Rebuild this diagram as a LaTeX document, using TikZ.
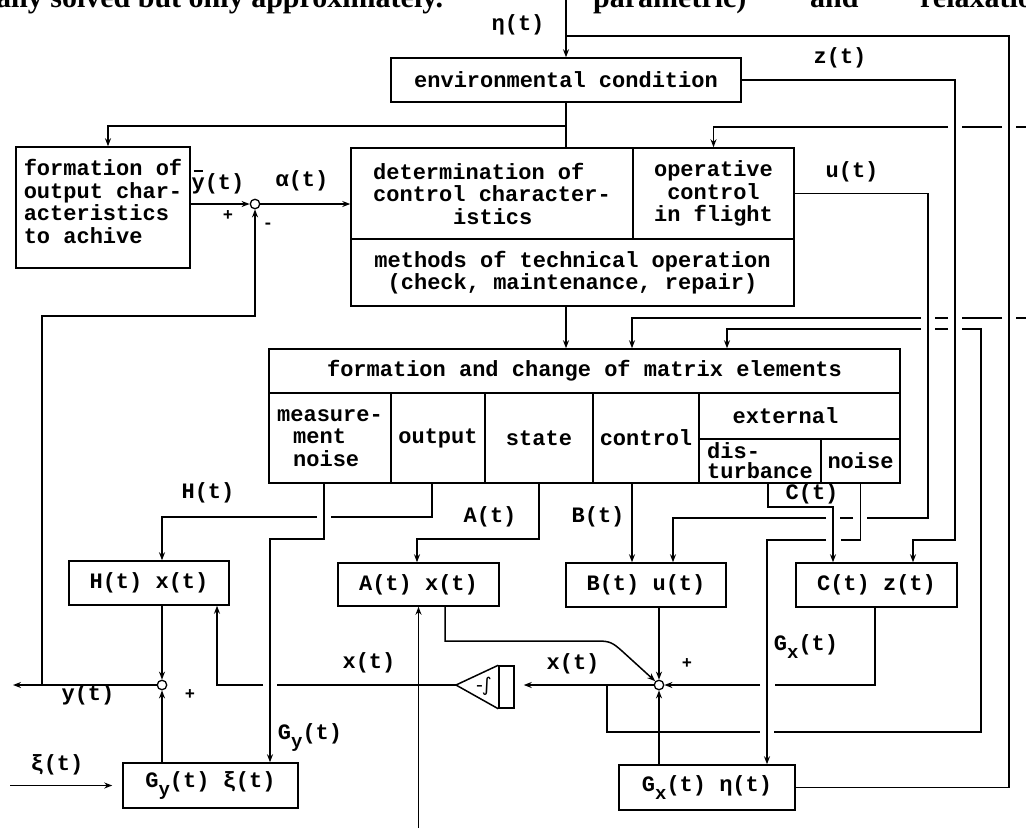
\documentclass[tikz,border=0pt]{standalone}
\usepackage{fontspec}
\newfontfamily\dmono{Liberation Mono}
\newfontfamily\dserif{Liberation Serif}
\newfontfamily\dsans{DejaVu Sans}
\usetikzlibrary{arrows.meta}
\newcommand\dtxt{\dmono\bfseries\fontsize{22}{22.5}\selectfont}
\newcommand\lowsub[1]{\raisebox{-8pt}{\fontsize{19}{19}\selectfont #1}}
\tikzset{
  ln/.style={line width=1.5pt},
  arr/.style={line width=1.5pt, -{Stealth[length=8pt,width=6pt]}},
  bx/.style={draw, line width=1.5pt, inner sep=0pt, font=\dtxt, align=center},
  lbl/.style={font=\dtxt, inner sep=0pt},
  sgn/.style={font=\dmono\bfseries\fontsize{17}{17}\selectfont, inner sep=0pt},
  sm/.style={draw, line width=1.3pt, circle, minimum size=9.5pt, inner sep=0pt},
  top/.style={font=\dserif\bfseries\fontsize{30}{30}\selectfont, inner sep=0pt, anchor=base west},
}
\begin{document}
\begin{tikzpicture}[x=1pt,y=-1pt]
\clip (0,0) rectangle (1026,839);
\useasboundingbox (0,0) rectangle (1026,839);
\fill[white] (0,0) rectangle (1026,839);

% page text cut at the top
\node[top] (t1) at (-4,7) {ally solved but only approximately.};
\node[top] (t2) at (593,7) {parametric)};
\node[top] (t3) at (810,7) {and};
\node[top] (t4) at (920,7) {relaxatio};

% boxes
\node[bx, minimum width=350pt, minimum height=44pt] (env) at (566,80) {environmental condition};
\node[bx, minimum width=174pt, minimum height=121pt, align=left] (form) at (103,207.5)
  {formation of\\output char-\\acteristics\\to achive\\[-10pt]};
\node[bx, minimum width=282pt, minimum height=91pt, align=left] (det) at (492,193.5)
  {determination of\\control character-\\\hspace*{80pt}istics};
\node[bx, minimum width=161pt, minimum height=91pt] (op) at (713.5,193.5) {operative\\control\\in flight};
\node[bx, minimum width=443pt, minimum height=67pt] (meth) at (572.5,272.5)
  {methods of technical operation\\(check, maintenance, repair)};

\node[bx, minimum width=631pt, minimum height=44pt] (hdr) at (584.5,371) {formation and change of matrix elements};
\node[bx, minimum width=122pt, minimum height=90pt, align=left] (mn) at (330,438)
  {measure-\\\hspace*{16pt}ment\\\hspace*{16pt}noise};
\node[bx, minimum width=94pt, minimum height=90pt] (out) at (438,438) {output};
\node[bx, minimum width=108pt, minimum height=90pt] (st) at (539,438) {state};
\node[bx, minimum width=106pt, minimum height=90pt] (ctl) at (646,438) {control};
\node[bx, minimum width=201pt, minimum height=46pt] (ext) at (799.5,416) {external\hspace*{28pt}};
\node[bx, minimum width=122pt, minimum height=44pt, align=left,
      font=\dmono\bfseries\fontsize{22}{20}\selectfont] (dist) at (760,461) {dis-\\turbance};
\node[bx, minimum width=79pt, minimum height=44pt] (nz) at (860.5,461) {noise};

\node[bx, minimum width=160pt, minimum height=44pt] (Hx) at (149,583) {H(t) x(t)};
\node[bx, minimum width=161pt, minimum height=43pt] (Ax) at (418.5,584.5) {A(t) x(t)};
\node[bx, minimum width=160pt, minimum height=44pt] (Bu) at (646,585) {B(t) u(t)};
\node[bx, minimum width=161pt, minimum height=44pt] (Cz) at (876.5,585) {C(t) z(t)};
\node[bx, minimum width=175pt, minimum height=45pt] (Gy) at (210.5,785.5) {G\lowsub{y}(t) ξ(t)};
\node[bx, minimum width=176pt, minimum height=45pt] (Gx) at (707,787.5) {G\lowsub{x}(t) η(t)};

% summing points
\node[sm] (sum1) at (255,204) {};
\node[sm] (sum2) at (162,685) {};
\node[sm] (sum3) at (659,685) {};

% integrator
\node[draw, line width=1.5pt, minimum width=15pt, minimum height=42pt, inner sep=0pt] (intR) at (506.5,687) {};
\coordinate (intTip) at (456,685);
\draw[ln, line join=miter] (intR.north west) -- (intTip) -- (intR.south west);
\node[inner sep=0pt, font=\dsans\fontsize{19}{19}\selectfont] (intSym) at (484,686) {-\kern-1pt∫};

% free ends and branch points
\coordinate (etaTop) at (566,0);
\coordinate (etaBr) at (566,36);
\coordinate (envBr) at (566,126);
\coordinate (in1) at (1026,127);
\coordinate (in2) at (1026,318);
\coordinate (yJ) at (42,685);
\coordinate (yOut) at (13,685);
\coordinate (xiIn) at (10,785.5);
\coordinate (aIn) at (418.5,828);
\coordinate (loopJ) at (607,685);

% labels
\node[lbl] (leta) at (518,25) {η(t)};
\node[lbl] (lz) at (840,58) {z(t)};
\node[lbl] (lu) at (852,172) {u(t)};
\node[lbl] (lybar) at (218,182) {\rlap{\hspace{2pt}\rule[17pt]{9pt}{1.6pt}}y(t)};
\node[lbl] (lalpha) at (302,181) {α(t)};
\node[lbl] (lH) at (208,493) {H(t)};
\node[lbl] (lA) at (490,517) {A(t)};
\node[lbl] (lB) at (598,517) {B(t)};
\node[lbl] (lC) at (812,494) {C(t)};
\node[lbl] (lx1) at (369,663) {x(t)};
\node[lbl] (lx2) at (573,664) {x(t)};
\node[lbl] (ly) at (88,695) {y(t)};
\node[lbl] (lxi) at (57,765) {ξ(t)};
\node[lbl] (lGy) at (310,737) {G\lowsub{y}(t)};
\node[lbl] (lGx) at (806,647) {G\lowsub{x}(t)};
\node[sgn] (p1) at (228,216) {+};
\node[sgn] (m1) at (268,226) {-};
\node[sgn] (p2) at (190,695) {+};
\node[sgn] (p3) at (687,664) {+};

% connectors: top part
\draw[arr] (etaTop) -- (env.north);
\draw[ln] (etaBr) -- (1009,36) -- (1009,787.5) -- (Gx.east);
\draw[ln] (env.south) -- (env.south |- det.north);
\draw[arr] (envBr) -- (108,126) -- ([xshift=5pt]form.north);
\draw[arr] (in1) -- (1016,127) (1002,127) -- (962,127) (948,127) -- (713.5,127) -- (op.north);
\draw[arr] (op.east) -- (928,193.5) -- (928,518) -- (867,518) (853,518) -- (840,518) (826,518) -- (673,518) -- ([xshift=27pt]Bu.north);
\draw[arr] (env.east) -- (955,80) -- (955,540) -- (913,540) -- ([xshift=36.5pt]Cz.north);

\draw[arr] (form.east |- sum1) -- (sum1.west);
\draw[arr] (sum1.east) -- (det.west |- sum1);
\draw[arr] (yJ) -- (42,316) -- (255,316) -- (sum1.south);

\draw[arr] (env.south |- meth.south) -- ([xshift=-18.5pt]hdr.north);
\draw[arr] (in2) -- (1016,318) (1002,318) -- (962,318) (948,318) -- (935,318) (921,318) -- (632,318) -- ([xshift=47.5pt]hdr.north);
\draw[arr] (loopJ) -- (607,732) -- (760,732) (774,732) -- (981,732) -- (981,329) -- (962,329) (948,329) -- (935,329) (921,329) -- (727,329) -- ([xshift=142.5pt]hdr.north);

% matrix outputs
\draw[arr] ([xshift=-6pt]mn.south) -- (324,539) -- (270,539) -- ([xshift=59.5pt]Gy.north);
\draw[arr] ([xshift=-6pt]out.south) -- (432,517) -- (331,517) (317,517) -- (162,517) -- (Hx.north -| sum2);
\draw[arr] (st.south) -- (539,539) -- (417,539) -- ([xshift=-1.5pt]Ax.north);
\draw[arr] ([xshift=-14pt]ctl.south) -- ([xshift=-14pt]Bu.north);
\draw[arr] ([xshift=8pt]dist.south) -- (768,507) -- (833,507) -- ([xshift=-43.5pt]Cz.north);
\draw[arr] (nz.south) -- (860.5,540) -- (841,540) (826,540) -- (767,540) -- ([xshift=60pt]Gx.north);

% lower part
\draw[arr] (sum2.west) -- (yOut);
\draw[arr] (Hx.south -| sum2) -- (sum2.north);
\draw[arr] (Gy.north -| sum2) -- (sum2.south);
\draw[arr, shorten >=10pt] (xiIn) -- (Gy.west);
\draw[arr] (intTip) -- (277,685) (263,685) -- (217,685) -- ([xshift=68pt]Hx.south);
\draw[arr] (aIn) -- (Ax.south);
\draw[arr] ([xshift=26.5pt]Ax.south) -- (445,641) -- (598,641) .. controls (610,641) and (613,643) .. (622,651) -- (sum3.north west);
\draw[arr] (Bu.south -| sum3) -- (sum3.north);
\draw[arr] (Gx.north -| sum3) -- (sum3.south);
\draw[arr] ([xshift=-1.5pt]Cz.south) -- (875,685) -- (775,685) (760,685) -- (sum3.east);
\draw[arr, shorten >=9pt] (sum3.west) -- (sum3.west -| intR.east);
\end{tikzpicture}
\end{document}
